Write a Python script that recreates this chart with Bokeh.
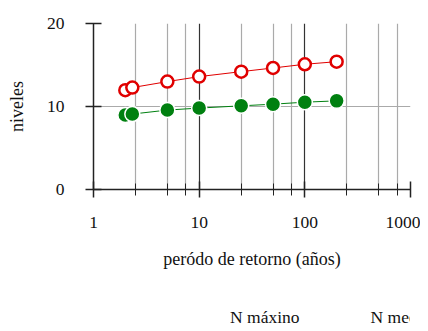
from bokeh.plotting import figure
from bokeh.layouts import column
from bokeh.models import Range1d, FixedTicker, Legend, LegendItem
from bokeh.embed import file_html
from bokeh.resources import INLINE

periodos = [2, 2.33, 5, 10, 25, 50, 100, 200]
n_maximo = [11.97, 12.28, 13.0, 13.6, 14.2, 14.64, 15.09, 15.4]
n_medio = [8.97, 9.09, 9.57, 9.81, 10.08, 10.28, 10.52, 10.68]
x_major = [1, 10, 100, 1000]
x_minor = [2.5, 5, 7.5, 25, 50, 75, 250, 500, 750]
y_major = [0, 10, 20]
series_labels = ["N máxino", "N medio"]

FONT = "Liberation Serif"
RED = "#e00000"
GREEN = "#008010"

p = figure(width=420, height=300, x_axis_type="log", output_backend="svg",
           toolbar_location=None, x_range=Range1d(1, 1000), y_range=Range1d(0, 20),
           min_border_left=93, min_border_right=10, min_border_top=23, min_border_bottom=111)
p.outline_line_color = None
p.background_fill_color = "white"

p.xaxis.ticker = FixedTicker(ticks=x_major, minor_ticks=x_minor)
p.yaxis.ticker = FixedTicker(ticks=y_major)
p.xaxis.major_label_overrides = {1: "1", 10: "10", 100: "100", 1000: "1000"}

for ax in (p.xaxis, p.yaxis):
    ax.axis_line_color = "#222222"
    ax.axis_line_width = 1.5
    ax.major_tick_line_color = "#222222"
    ax.major_tick_line_width = 1.5
    ax.major_tick_in = 8
    ax.major_tick_out = 8
    ax.major_label_text_font = FONT
    ax.major_label_text_font_size = "17.5px"
    ax.major_label_text_color = "#111111"
    ax.axis_label_text_font = FONT
    ax.axis_label_text_font_size = "18px"
    ax.axis_label_text_font_style = "normal"
    ax.axis_label_text_color = "#111111"

p.xaxis.minor_tick_line_color = "#222222"
p.xaxis.minor_tick_in = 6
p.xaxis.minor_tick_out = 6
p.yaxis.minor_tick_line_color = None
p.xaxis.major_label_standoff = 19
p.yaxis.major_label_standoff = 21
p.yaxis.major_label_text_baseline = "alphabetic"
p.xaxis.axis_label = "peródo de retorno (años)"
p.yaxis.axis_label = "niveles"
p.xaxis.axis_label_standoff = 18
p.yaxis.axis_label_standoff = 17

p.xgrid.grid_line_color = "#333333"
p.xgrid.grid_line_width = 1.2
p.xgrid.minor_grid_line_color = "#aaaaaa"
p.xgrid.minor_grid_line_width = 1.2
p.ygrid.grid_line_color = "#aaaaaa"
p.ygrid.grid_line_width = 1.2

p.line(periodos, n_maximo, line_color=RED, line_width=1)
p.scatter(periodos, n_maximo, size=12, fill_color="white", line_color=RED, line_width=2.5)
p.line(periodos, n_medio, line_color=GREEN, line_width=1)
p.scatter(periodos, n_medio, size=15, fill_color=GREEN, line_color="white", line_width=1.5)

# legend strip below the chart
leg = figure(width=420, height=31, output_backend="svg", toolbar_location=None,
             x_range=Range1d(0, 1), y_range=Range1d(0, 1),
             x_axis_location=None, y_axis_location=None,
             min_border_left=0, min_border_right=0, min_border_top=0, min_border_bottom=0)
leg.outline_line_color = None
leg.xgrid.visible = False
leg.ygrid.visible = False
k1 = leg.line([], [], line_color=RED, line_width=1)
k2 = leg.scatter([], [], size=12, fill_color="white", line_color=RED, line_width=2.5)
k3 = leg.line([], [], line_color=GREEN, line_width=1)
k4 = leg.scatter([], [], size=15, fill_color=GREEN, line_color="white", line_width=1.5)

legend = Legend(items=[LegendItem(label=series_labels[0], renderers=[k1, k2]),
                       LegendItem(label=series_labels[1], renderers=[k3, k4])],
                orientation="horizontal", location=(83, 3),
                label_text_font=FONT, label_text_font_size="17.5px",
                label_text_color="#111111",
                glyph_width=37, label_standoff=17, spacing=17,
                border_line_color=None, background_fill_alpha=0,
                padding=0, margin=0)
leg.add_layout(legend, "center")

layout = column(p, leg, spacing=0)
open("out.html", "w").write(file_html(layout, INLINE))
